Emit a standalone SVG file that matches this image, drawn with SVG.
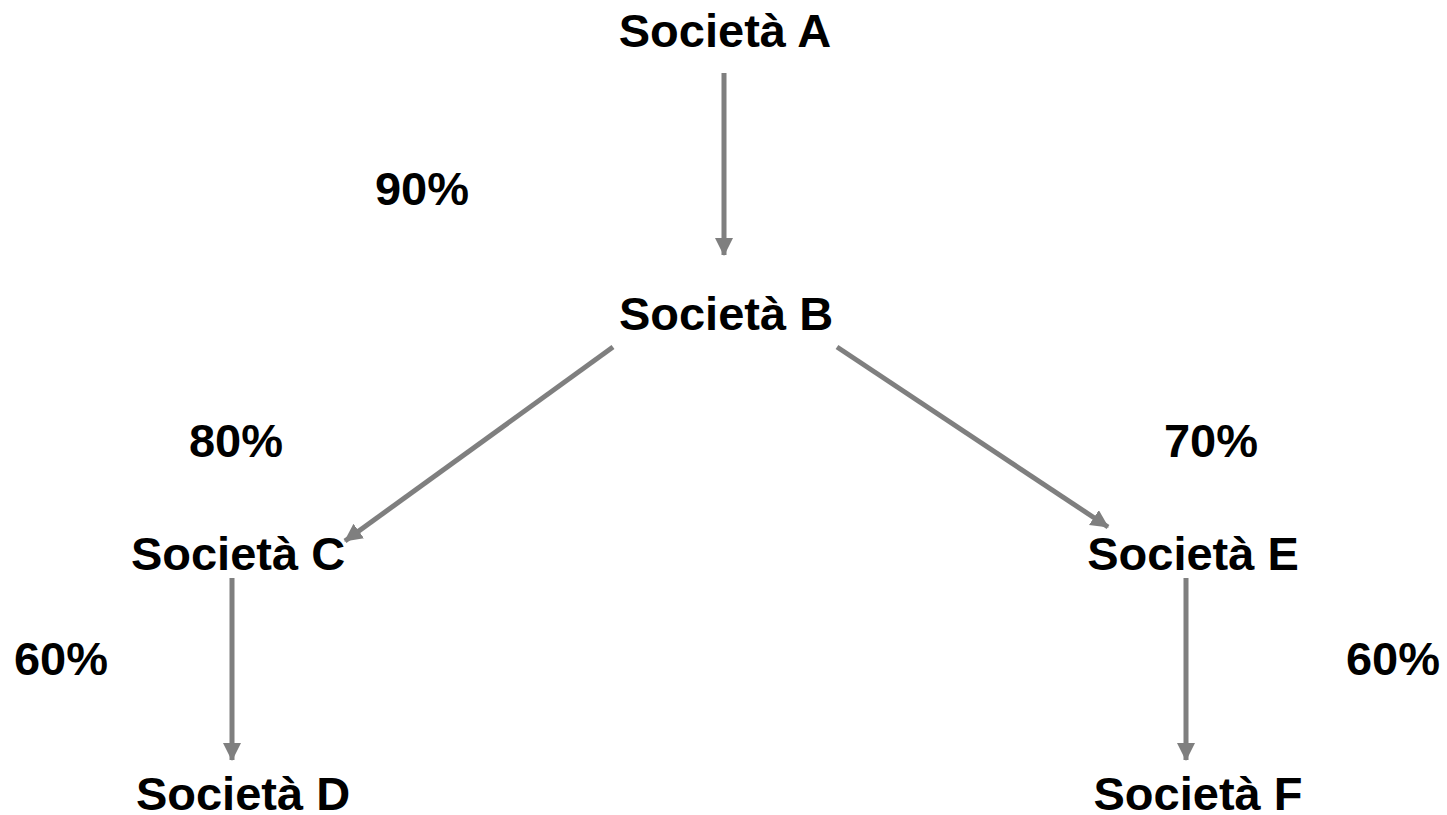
<svg xmlns="http://www.w3.org/2000/svg" width="1447" height="815" viewBox="0 0 1447 815">
<style>
text{font-family:"Liberation Sans",Arial,sans-serif;font-weight:bold;font-size:47px;fill:#000;text-anchor:middle}
.c{stroke:#7f7f7f;stroke-width:5;fill:none}
</style>
<defs>
<marker id="ah" markerUnits="userSpaceOnUse" markerWidth="18" markerHeight="18" viewBox="0 0 18 18" refX="17" refY="9" orient="auto">
<path d="M0,0 L18,9 L0,18 Z" fill="#7f7f7f"/>
</marker>
</defs>
<rect width="1447" height="815" fill="#fff"/>
<g id="connectors">
<line class="c" x1="724" y1="73" x2="724" y2="255" marker-end="url(#ah)"/>
<line class="c" x1="613" y1="347" x2="345" y2="541" marker-end="url(#ah)"/>
<line class="c" x1="837" y1="347" x2="1108" y2="527" marker-end="url(#ah)"/>
<line class="c" x1="232" y1="578" x2="232" y2="760" marker-end="url(#ah)"/>
<line class="c" x1="1186" y1="578" x2="1186" y2="760" marker-end="url(#ah)"/>
</g>
<g id="nodeA"><text x="725" y="47">Società A</text></g>
<g id="nodeB"><text x="726" y="330">Società B</text></g>
<g id="nodeC"><text x="238" y="570">Società C</text></g>
<g id="nodeE"><text x="1193" y="570">Società E</text></g>
<g id="nodeD"><text x="243" y="810">Società D</text></g>
<g id="nodeF"><text x="1198" y="810">Società F</text></g>
<g id="labels">
<text x="422" y="205">90%</text>
<text x="236" y="457">80%</text>
<text x="1211" y="457">70%</text>
<text x="61" y="675">60%</text>
<text x="1393" y="675">60%</text>
</g>
</svg>
